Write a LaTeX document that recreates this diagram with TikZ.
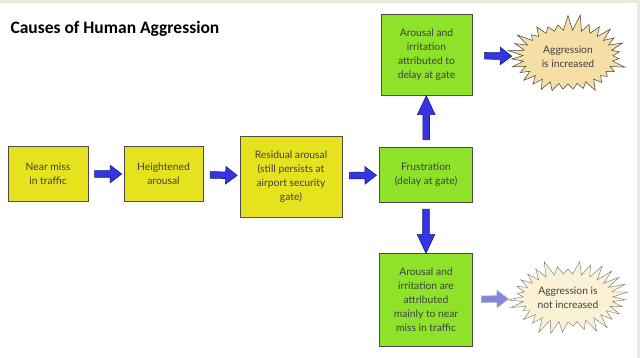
\documentclass[tikz,border=0pt]{standalone}
\usepackage{fontspec}
\setmainfont{Lato}
\newfontfamily\titlefont{Carlito}
\usepackage{tikz}
\usetikzlibrary{shapes.symbols, shapes.arrows, positioning}
\definecolor{cyellow}{HTML}{E6E31E}
\definecolor{cgreen}{HTML}{8FE22A}
\definecolor{cblue}{HTML}{3535E6}
\definecolor{cnavy}{HTML}{1C1C7A}
\definecolor{clilac}{HTML}{8585E0}
\definecolor{cstar}{HTML}{F6DFA5}
\definecolor{cpalestar}{HTML}{FBF2D6}
\definecolor{cframe}{HTML}{E8ECDA}

\begin{document}
\begin{tikzpicture}[x=1pt, y=-1pt, font=\fontsize{10.3}{14}\selectfont, text=black!75,
    cause/.style={draw=black!70, line width=0.6pt, fill=cyellow, align=center, inner sep=2pt},
    effect/.style={cause, fill=cgreen},
    blast/.style={starburst, draw=black!75, line width=0.5pt, fill=cstar, align=center,
        starburst points=31, starburst point height=16pt, inner sep=0pt},
    push/.style={single arrow, draw=cnavy, fill=cblue, line width=0.6pt, inner sep=3pt,
        single arrow head extend=5.5pt, minimum height=27pt, single arrow tip angle=75,
        sloped, allow upside down, anchor=center},
    rise/.style={push, minimum height=44pt, single arrow tip angle=50}]
\useasboundingbox (0,0) rectangle (640,358);
\fill[white] (0,0) rectangle (640,358);
\fill[cframe] (0,0) rectangle (640,3);
\fill[cframe] (637,0) rectangle (640,358);

\node[anchor=base west, text=black, font=\titlefont\bfseries\fontsize{17.5}{20}\selectfont] (title) at (7,34) {Causes of Human Aggression};

% the chain of causes
\node[cause, minimum width=80pt, minimum height=55pt] (nearmiss) at (48,174) {Near miss\\in traffic};
\node[cause, minimum width=79pt, minimum height=55pt] (heightened) at (163.5,174) {Heightened\\arousal};
\node[cause, minimum width=102pt, minimum height=81pt] (residual) at (291,176.5) {Residual arousal\\(still persists at\\airport security\\gate)};
\node[effect, minimum width=93pt, minimum height=55pt] (frustration) at (426,174.5) {Frustration\\(delay at gate)};
\node[effect, minimum width=91pt, minimum height=81pt] (delay) at (426.5,55) {Arousal and\\irritation\\attributed to\\delay at gate};
\node[effect, minimum width=93pt, minimum height=93pt] (traffic) at (426,300) {Arousal and\\irritation are\\attributed\\mainly to near\\miss in traffic};

% outcomes
\node[blast, minimum width=122pt, minimum height=86pt, random starburst=7] (increased) at (568,57) {Aggression\\is increased};
\node[blast, fill=cpalestar, draw=black!55, line width=0.4pt, minimum width=122pt, minimum height=80pt, random starburst=3] (notincreased) at (568,298) {Aggression is\\not increased};

% arrows
\path (nearmiss) -- node[push] (a1) {} (heightened);
\path (heightened) -- node[push] (a2) {} (residual);
\path (residual) -- node[push] (a3) {} (frustration);
\path (frustration) -- node[rise] (a4) {} (delay);
\path (frustration) -- node[rise] (a5) {} (traffic);
\path (delay) -- node[push] (a6) {} (increased);
\path (traffic) -- node[push, fill=clilac, draw=black!30] (a7) {} (notincreased);
\end{tikzpicture}
\end{document}
